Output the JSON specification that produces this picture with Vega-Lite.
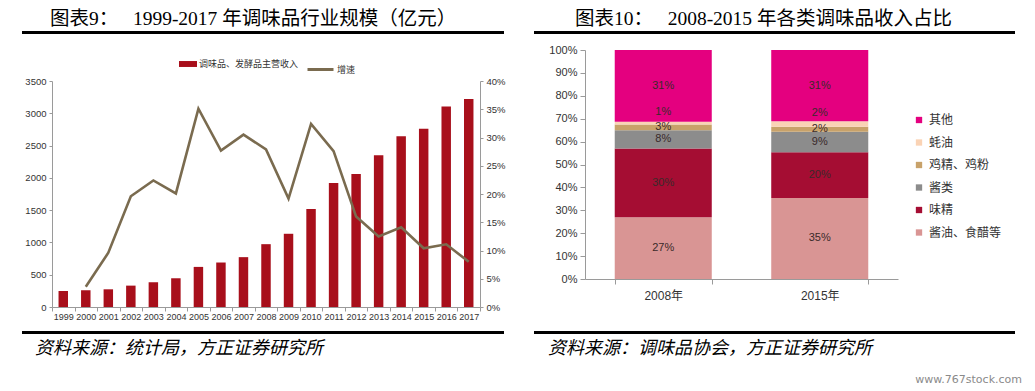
{
  "$schema": "https://vega.github.io/schema/vega-lite/v6.json",
  "padding": {"left": 22, "top": 9, "right": 0, "bottom": 0},
  "background": "white",
  "config": {
    "view": {"stroke": null},
    "axis": {"domainColor": "#9a9a9a", "tickColor": "#9a9a9a", "labelColor": "#333333", "grid": false, "title": null},
    "title": {"font": "'Liberation Serif', 'Noto Sans CJK SC'", "fontWeight": "normal", "color": "#000000"}
  },
  "datasets": {
    "scale": [
      {"year": "1999", "收入": 248, "增速": null},
      {"year": "2000", "收入": 259, "增速": 0.036},
      {"year": "2001", "收入": 274, "增速": 0.096},
      {"year": "2002", "收入": 331, "增速": 0.196},
      {"year": "2003", "收入": 383, "增速": 0.224},
      {"year": "2004", "收入": 445, "增速": 0.201},
      {"year": "2005", "收入": 621, "增速": 0.351},
      {"year": "2006", "收入": 689, "增速": 0.277},
      {"year": "2007", "收入": 772, "增速": 0.305},
      {"year": "2008", "收入": 973, "增速": 0.279},
      {"year": "2009", "收入": 1134, "增速": 0.192},
      {"year": "2010", "收入": 1517, "增速": 0.324},
      {"year": "2011", "收入": 1921, "增速": 0.276},
      {"year": "2012", "收入": 2061, "增速": 0.160},
      {"year": "2013", "收入": 2351, "增速": 0.125},
      {"year": "2014", "收入": 2646, "增速": 0.141},
      {"year": "2015", "收入": 2760, "增速": 0.104},
      {"year": "2016", "收入": 3107, "增速": 0.111},
      {"year": "2017", "收入": 3221, "增速": 0.080}
    ],
    "share": [
      {"年份": "2008年", "类别": "酱油、食醋等", "占比": 0.27, "序": 1},
      {"年份": "2008年", "类别": "味精", "占比": 0.30, "序": 2},
      {"年份": "2008年", "类别": "酱类", "占比": 0.08, "序": 3},
      {"年份": "2008年", "类别": "鸡精、鸡粉", "占比": 0.025, "序": 4},
      {"年份": "2008年", "类别": "蚝油", "占比": 0.012, "序": 5},
      {"年份": "2008年", "类别": "其他", "占比": 0.313, "序": 6},
      {"年份": "2015年", "类别": "酱油、食醋等", "占比": 0.354, "序": 1},
      {"年份": "2015年", "类别": "味精", "占比": 0.20, "序": 2},
      {"年份": "2015年", "类别": "酱类", "占比": 0.089, "序": 3},
      {"年份": "2015年", "类别": "鸡精、鸡粉", "占比": 0.022, "序": 4},
      {"年份": "2015年", "类别": "蚝油", "占比": 0.024, "序": 5},
      {"年份": "2015年", "类别": "其他", "占比": 0.311, "序": 6}
    ]
  },
  "title": {"text": "www.767stock.com", "orient": "bottom", "anchor": "end", "font": "'DejaVu Sans'", "fontSize": 11, "color": "#8a8a8a", "offset": 16, "dx": 7},
  "resolve": {"scale": {"color": "independent", "stroke": "independent"}, "legend": {"color": "independent", "stroke": "independent"}},
  "spacing": 28,
  "hconcat": [
    {
      "spacing": 17,
      "resolve": {"scale": {"color": "independent", "stroke": "independent"}, "legend": {"color": "independent", "stroke": "independent"}},
      "vconcat": [
        {
          "width": 482, "height": 3,
          "view": {"fill": "#000000", "stroke": null},
          "data": {"values": [{}]},
          "mark": {"type": "text"},
          "encoding": {"text": {"value": ""}},
          "title": {"text": "图表9：\u3000 1999-2017 年调味品行业规模（亿元）", "anchor": "start", "dx": 28, "fontSize": 19.5, "offset": -3}
        },
        {
          "spacing": 5,
          "resolve": {"scale": {"color": "independent", "stroke": "independent"}, "legend": {"color": "independent", "stroke": "independent"}},
          "vconcat": [
            {
              "width": 458, "height": 226,
              "data": {"name": "scale"},
              "encoding": {
                "x": {"field": "year", "type": "ordinal", "scale": {"range": [30, 458], "paddingInner": 0, "paddingOuter": 0},
                  "axis": {"labelAngle": 0, "tickBand": "extent", "tickSize": 4, "labelFont": "'Liberation Sans'", "labelFontSize": 9, "labelPadding": 1, "labelOverlap": false}}
              },
              "layer": [
                {
                  "mark": {"type": "bar", "width": {"band": 0.42}},
                  "encoding": {
                    "y": {"field": "收入", "type": "quantitative", "scale": {"domain": [0, 3500]},
                      "axis": {"values": [0, 500, 1000, 1500, 2000, 2500, 3000, 3500], "format": "d", "offset": -30, "tickSize": 3, "labelPadding": 3, "labelFont": "'Liberation Sans'", "labelFontSize": 9.5}},
                    "color": {"datum": "调味品、发酵品主营收入", "scale": {"range": ["#A80F1B"]},
                      "legend": {"orient": "none", "legendX": 157, "legendY": -26, "title": null, "symbolType": "M-1,-0.33H1V0.33H-1Z", "symbolSize": 324, "symbolStrokeWidth": 0, "labelFont": "'Noto Sans CJK SC'", "labelFontSize": 9, "labelColor": "#333333", "labelOffset": 2}}
                  }
                },
                {
                  "mark": {"type": "line", "strokeWidth": 2.6},
                  "encoding": {
                    "y": {"field": "增速", "type": "quantitative", "scale": {"domain": [0, 0.4]},
                      "axis": {"orient": "right", "format": ".0%", "values": [0, 0.05, 0.1, 0.15, 0.2, 0.25, 0.3, 0.35, 0.4], "tickSize": 3, "labelPadding": 3, "labelFont": "'Liberation Sans'", "labelFontSize": 9.5}},
                    "stroke": {"datum": "增速", "scale": {"range": ["#7A6B4F"]},
                      "legend": {"orient": "none", "legendX": 284, "legendY": -26, "title": null, "symbolType": "stroke", "symbolSize": 676, "symbolStrokeWidth": 3, "labelFont": "'Noto Sans CJK SC'", "labelFontSize": 9, "labelColor": "#333333", "labelOffset": 2}}
                  }
                }
              ],
              "resolve": {"scale": {"y": "independent"}}
            },
            {
              "width": 482, "height": 3,
              "view": {"fill": "#000000", "stroke": null},
              "data": {"values": [{}]},
              "mark": {"type": "text"},
              "encoding": {"text": {"value": ""}},
              "title": {"text": "资料来源：统计局，方正证券研究所", "orient": "bottom", "anchor": "start", "dx": 13, "offset": 2, "font": "'Noto Sans CJK SC'", "fontStyle": "italic", "fontSize": 18}
            }
          ]
        }
      ]
    },
    {
      "spacing": 6,
      "resolve": {"scale": {"color": "independent", "stroke": "independent"}, "legend": {"color": "independent", "stroke": "independent"}},
      "vconcat": [
        {
          "width": 481, "height": 3,
          "view": {"fill": "#000000", "stroke": null},
          "data": {"values": [{}]},
          "mark": {"type": "text"},
          "encoding": {"text": {"value": ""}},
          "title": {"text": "图表10：\u3000 2008-2015 年各类调味品收入占比", "anchor": "start", "dx": 41, "fontSize": 19.5, "offset": -3}
        },
        {
          "spacing": 25,
          "resolve": {"scale": {"color": "independent", "stroke": "independent"}, "legend": {"color": "independent", "stroke": "independent"}},
          "vconcat": [
            {
              "width": 364, "height": 229,
              "data": {"name": "share"},
              "encoding": {
                "x": {"field": "年份", "type": "nominal", "scale": {"range": [51, 364], "paddingInner": 0.38, "paddingOuter": 0.19},
                  "axis": {"labelAngle": 0, "tickBand": "extent", "tickSize": 5, "labelFont": "'Liberation Sans', 'Noto Sans CJK SC'", "labelFontSize": 12, "labelPadding": 6}},
                "y": {"field": "占比", "type": "quantitative", "stack": "zero", "scale": {"domain": [0, 1]},
                  "axis": {"format": ".0%", "values": [0, 0.1, 0.2, 0.3, 0.4, 0.5, 0.6, 0.7, 0.8, 0.9, 1], "offset": -51, "tickSize": 5, "labelPadding": 3, "labelFont": "'Liberation Sans'", "labelFontSize": 11}},
                "order": {"field": "序", "type": "quantitative"}
              },
              "layer": [
                {
                  "mark": {"type": "bar"},
                  "encoding": {
                    "color": {"field": "类别", "type": "nominal",
                      "scale": {"domain": ["其他", "蚝油", "鸡精、鸡粉", "酱类", "味精", "酱油、食醋等"], "range": ["#E4007F", "#FAD3B5", "#C8A26A", "#8C8C8C", "#A50D33", "#D99594"]},
                      "legend": {"orient": "none", "legendX": 379, "legendY": 64, "title": null, "symbolType": "square", "symbolSize": 40, "symbolStrokeWidth": 0, "labelFont": "'Noto Sans CJK SC'", "labelFontSize": 12, "labelColor": "#333333", "labelOffset": 4, "rowPadding": 10.5}}
                  }
                },
                {
                  "mark": {"type": "text", "font": "'Liberation Sans'", "fontSize": 11, "color": "#3a2a2a"},
                  "encoding": {
                    "y": {"field": "占比", "type": "quantitative", "stack": "zero", "bandPosition": 0.5},
                    "detail": {"field": "类别"},
                    "text": {"field": "占比", "type": "quantitative", "format": ".0%"},
                    "opacity": {"condition": {"test": "datum['类别'] === '蚝油'", "value": 0}, "value": 1}
                  }
                },
                {
                  "mark": {"type": "text", "font": "'Liberation Sans'", "fontSize": 11, "color": "#3a2a2a", "dy": -11},
                  "encoding": {
                    "y": {"field": "占比", "type": "quantitative", "stack": "zero", "bandPosition": 0.5},
                    "detail": {"field": "类别"},
                    "text": {"field": "占比", "type": "quantitative", "format": ".0%"},
                    "opacity": {"condition": {"test": "datum['类别'] === '蚝油'", "value": 1}, "value": 0}
                  }
                }
              ]
            },
            {
              "width": 481, "height": 3,
              "view": {"fill": "#000000", "stroke": null},
              "data": {"values": [{}]},
              "mark": {"type": "text"},
              "encoding": {"text": {"value": ""}},
              "title": {"text": "资料来源：调味品协会，方正证券研究所", "orient": "bottom", "anchor": "start", "dx": 14, "offset": 2, "font": "'Noto Sans CJK SC'", "fontStyle": "italic", "fontSize": 18}
            }
          ]
        }
      ]
    }
  ]
}
